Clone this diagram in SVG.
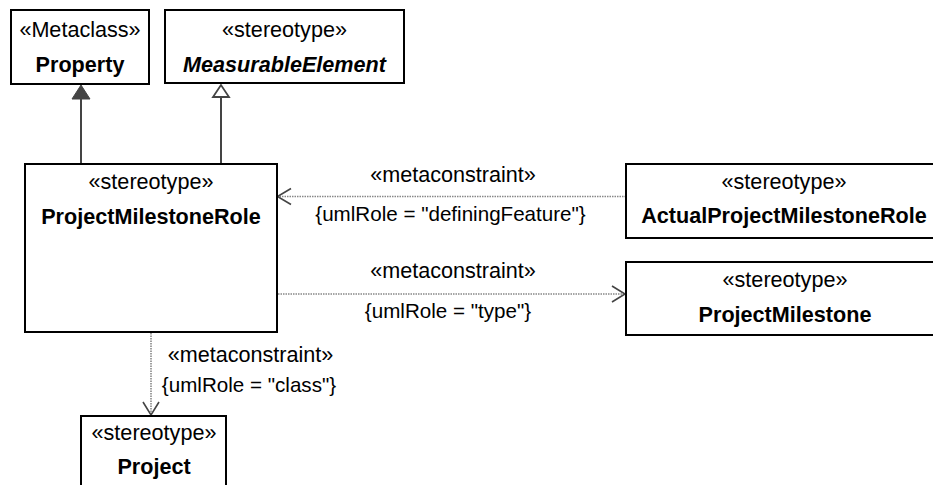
<svg xmlns="http://www.w3.org/2000/svg" width="933" height="485" viewBox="0 0 933 485">
<style>
.box{fill:#fff;stroke:#000;stroke-width:2}
text{font-family:"Liberation Sans",Arial,sans-serif;font-size:21.6px;fill:#000;text-anchor:middle}
.lbl{font-size:20.6px}
.b{font-weight:bold}
.bi{font-weight:bold;font-style:italic}
.gen{stroke:#444;stroke-width:2;fill:none}
.dep{stroke:#888;stroke-width:1.6;stroke-dasharray:1.5 1;fill:none}
.head{stroke:#444;stroke-width:1.6;fill:none}
</style>
<rect width="933" height="485" fill="#fff"/>
<g id="connectors">
<line class="gen" x1="81" y1="164" x2="81" y2="98"/>
<polygon points="81,85 72,99 90,99" fill="#444" stroke="#444" stroke-width="1"/>
<line class="gen" x1="221" y1="164" x2="221" y2="97"/>
<polygon points="221,85 213,97 229,97" fill="#fff" stroke="#444" stroke-width="1.8"/>
<line class="dep" x1="626" y1="196.5" x2="278" y2="196.5"/>
<polyline class="head" points="291,188.5 277.5,196.5 291,204.5"/>
<line class="dep" x1="278" y1="294" x2="624" y2="294"/>
<polyline class="head" points="612,286 625,294 612,302"/>
<line class="dep" x1="151" y1="333" x2="151" y2="414"/>
<polyline class="head" points="143,402 151,415 159,402"/>
<text x="453" y="182">«metaconstraint»</text>
<text class="lbl" x="450.5" y="221">{umlRole = "definingFeature"}</text>
<text x="453" y="278">«metaconstraint»</text>
<text class="lbl" x="448" y="318">{umlRole = "type"}</text>
<text x="250.5" y="362">«metaconstraint»</text>
<text class="lbl" x="249" y="391.5">{umlRole = "class"}</text>
</g>
<g id="Property">
<rect class="box" x="11" y="10" width="138" height="74"/>
<text x="80" y="37">«Metaclass»</text>
<text class="b" x="80" y="72">Property</text>
</g>
<g id="MeasurableElement">
<rect class="box" x="165" y="10" width="239" height="73"/>
<text x="284.5" y="37">«stereotype»</text>
<text class="bi" x="284.5" y="72">MeasurableElement</text>
</g>
<g id="ProjectMilestoneRole">
<rect class="box" x="25" y="164" width="252" height="168"/>
<text x="151" y="189">«stereotype»</text>
<text class="b" x="151" y="224">ProjectMilestoneRole</text>
</g>
<g id="ActualProjectMilestoneRole">
<rect class="box" x="626" y="164" width="316" height="74"/>
<text x="784" y="188.5">«stereotype»</text>
<text class="b" x="784" y="222.5">ActualProjectMilestoneRole</text>
</g>
<g id="ProjectMilestone">
<rect class="box" x="626" y="262" width="316" height="73"/>
<text x="785" y="287">«stereotype»</text>
<text class="b" x="785" y="322">ProjectMilestone</text>
</g>
<g id="Project">
<rect class="box" x="81" y="416" width="145" height="80"/>
<text x="154" y="440">«stereotype»</text>
<text class="b" x="154" y="474">Project</text>
</g>
</svg>
